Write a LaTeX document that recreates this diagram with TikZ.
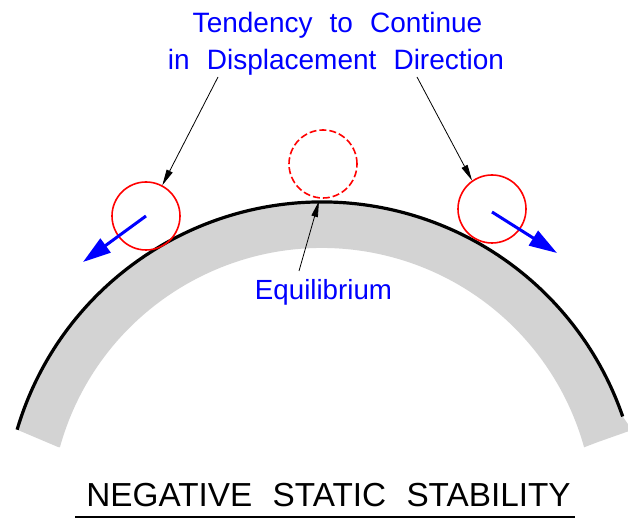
\documentclass[tikz,border=0pt]{standalone}
\usepackage{fontspec}
\setmainfont{Liberation Sans}
\newfontfamily\topfont[WordSpace=2.0]{Liberation Sans}
\newfontfamily\ttlfont[WordSpace=2.2]{Liberation Sans}
\usetikzlibrary{arrows.meta,calc}
\definecolor{bandgray}{RGB}{211,211,211}
\definecolor{pblue}{RGB}{0,0,255}
\definecolor{pred}{RGB}{255,0,0}
\tikzset{
  ball/.style={circle,draw=pred,line width=1.6pt,minimum size=68pt,inner sep=0pt},
  dball/.style={ball,dash pattern=on 7pt off 3pt},
  motion/.style={draw=pblue,line width=3pt,-{Triangle[length=28pt,width=17pt]}},
  leader/.style={draw=black,line width=0.8pt,-{Triangle[length=16pt,width=6.5pt]}},
  btext/.style={text=pblue,anchor=base,inner sep=0pt},
}
\begin{document}
\begin{tikzpicture}[x=1pt,y=1pt]
\useasboundingbox (0,0) rectangle (628,518);
\coordinate (C) at (322,-2);
% gray band
\fill[bandgray] ($(C)+(19:318)$) arc[start angle=19,end angle=163.5,radius=318]
  -- (58,71) -- ($(C)+(164.5:272)$) arc[start angle=164.5,end angle=15.5,radius=272]
  -- (598,76) -- (632,88) -- cycle;
% surface
\draw[line width=3.2pt] ($(C)+(163.5:318)$) arc[start angle=163.5,end angle=19,radius=318];
% balls
\node[ball] (lb) at (146,302) {};
\node[ball] (rb) at (492,309) {};
\node[dball] (eb) at (323,354) {};
\coordinate (top) at (319,317);
% motion arrows
\coordinate (la) at (83,256);
\coordinate (ra) at (557,265);
\draw[motion] (lb.center) -- (la);
\draw[motion] ([yshift=-3pt]rb.center) -- (ra);
% texts
\node[btext] (t1) at (337.5,485) {\topfont\fontsize{28}{33}\selectfont Tendency to Continue};
\node[btext] (t2) at (336,448) {\topfont\fontsize{28}{33}\selectfont in Displacement Direction};
\node[btext] (eq) at (323.5,218) {\fontsize{27.7}{33}\selectfont Equilibrium};
\node[anchor=base,inner sep=0pt] (ttl) at (328.5,11) {\ttlfont\fontsize{33.3}{38}\selectfont NEGATIVE STATIC STABILITY};
\coordinate (ul1) at (75,1);
\coordinate (ul2) at (575,1);
\draw[line width=1.5pt] (ul1) -- (ul2);
% leaders
\coordinate (l1) at (218,441);
\coordinate (l2) at (417,441);
\coordinate (l3) at (299,247);
\draw[leader] (l1) -- (lb.62);
\draw[leader] (l2) -- (rb.125);
\draw[leader] (l3) -- (top);
\end{tikzpicture}
\end{document}
